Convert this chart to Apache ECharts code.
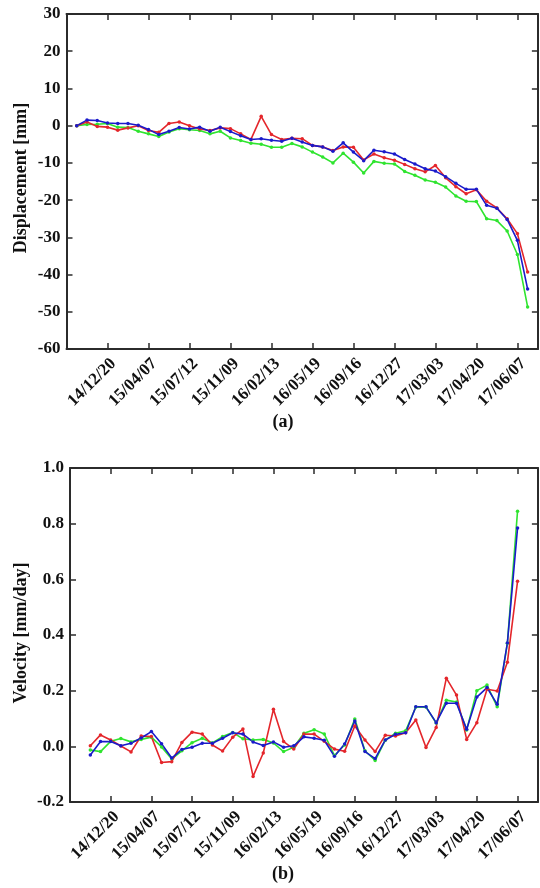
<!DOCTYPE html>
<html>
<head>
<meta charset="utf-8">
<script src="https://cdn.jsdelivr.net/npm/echarts@6/dist/echarts.min.js"></script>
<style>
html,body{margin:0;padding:0;background:#fff;}
#chart{width:540px;height:888px;}
</style>
</head>
<body>
<div id="chart"></div>
<script>
// Tick labels (every 4th acquisition, starting at acquisition index 3)
const tickLabels = ['14/12/20','15/04/07','15/07/12','15/11/09','16/02/13','16/05/19','16/09/16','16/12/27','17/03/03','17/04/20','17/06/07'];

// Displacement [mm], acquisitions 0..44
const dispRed = [0,1.0,-0.2,-0.4,-1.2,-0.6,0,-1.3,-1.8,0.6,1.0,0,-0.9,-1.3,-0.6,-0.8,-2.2,-3.7,2.5,-2.4,-3.7,-3.4,-3.5,-5.3,-5.7,-6.7,-5.7,-5.8,-9.2,-7.6,-8.6,-9.3,-10.4,-11.6,-12.4,-10.7,-14.0,-16.4,-18.3,-17.2,-20.3,-22.1,-25.0,-29.0,-39.3];
const dispGreen = [0,0.3,0.4,0.6,-0.4,-0.5,-1.5,-2.2,-2.9,-1.7,-0.8,-1.1,-1.3,-2.2,-1.5,-3.3,-4.0,-4.7,-5.0,-5.8,-5.8,-4.8,-5.7,-7.1,-8.4,-10.0,-7.4,-9.8,-12.7,-9.6,-10.1,-10.3,-12.3,-13.3,-14.6,-15.2,-16.5,-18.9,-20.3,-20.4,-25.0,-25.5,-28.3,-34.6,-48.7];
const dispBlue = [0,1.5,1.4,0.7,0.6,0.6,0.1,-1.0,-2.4,-1.5,-0.5,-0.9,-0.4,-1.5,-0.4,-1.6,-2.7,-3.7,-3.5,-3.9,-4.2,-3.4,-4.4,-5.3,-5.7,-6.9,-4.6,-7.1,-9.4,-6.6,-7.0,-7.6,-9.1,-10.3,-11.6,-12.2,-13.7,-15.5,-17.1,-17.1,-21.4,-22.2,-25.2,-30.8,-43.9];

// Velocity [mm/day], acquisitions 1..43
const velRed = [0.002,0.041,0.023,0.001,-0.02,0.037,0.035,-0.058,-0.055,0.014,0.051,0.044,0.005,-0.017,0.033,0.062,-0.108,-0.024,0.133,0.017,-0.01,0.044,0.044,0.018,-0.01,-0.018,0.073,0.023,-0.019,0.04,0.037,0.049,0.095,-0.004,0.068,0.245,0.184,0.025,0.085,0.205,0.199,0.302,0.593];
const velGreen = [-0.013,-0.019,0.018,0.028,0.016,0.025,0.033,-0.002,-0.045,-0.016,0.013,0.029,0.012,0.035,0.05,0.027,0.023,0.025,0.012,-0.019,-0.003,0.047,0.06,0.044,-0.033,0.005,0.098,-0.016,-0.051,0.022,0.047,0.056,0.141,0.141,0.084,0.166,0.159,0.059,0.2,0.22,0.142,0.37,0.845];
const velBlue = [-0.031,0.017,0.017,0.002,0.011,0.03,0.053,0.009,-0.042,-0.011,-0.003,0.011,0.011,0.029,0.049,0.044,0.016,0.003,0.016,-0.003,0.002,0.034,0.029,0.022,-0.036,0.008,0.091,-0.019,-0.044,0.023,0.043,0.049,0.142,0.142,0.085,0.155,0.155,0.061,0.177,0.211,0.151,0.371,0.784];

const RED = '#e4262b', GREEN = '#2fe42f', BLUE = '#1a1acb';
const AX = '#2b2b2b';
const FONT = 'Liberation Serif';

const chart = echarts.init(document.getElementById('chart'), null, {renderer: 'canvas'});

function xLabel(v) {
  const k = Math.round(v / 4) - 1;
  if (Math.abs(v - Math.round(v)) > 1e-6 || v % 4 !== 0) return '';
  return (k >= 0 && k < tickLabels.length) ? tickLabels[k] : '';
}

function xAxisBase(grid, pos, show) {
  return {
    type: 'value', gridIndex: grid, position: pos, min: 0, max: 46, interval: 4,
    axisLine: {show: true, onZero: false, lineStyle: {color: AX, width: 2}},
    axisTick: {show: true, inside: true, length: 6, lineStyle: {color: AX, width: 1.5}},
    axisLabel: show ? {show: true, rotate: 45, margin: 6, verticalAlign: 'top', color: '#111', fontFamily: FONT, fontWeight: 'bold', fontSize: 17, formatter: xLabel} : {show: false},
    splitLine: {show: false}
  };
}
function yAxisBase(grid, pos, show, min, max, interval, fmt) {
  return {
    type: 'value', gridIndex: grid, position: pos, min: min, max: max, interval: interval,
    axisLine: {show: true, onZero: false, lineStyle: {color: AX, width: 2}},
    axisTick: {show: true, inside: true, length: 6, lineStyle: {color: AX, width: 1.5}},
    axisLabel: show ? {show: true, margin: 6, color: '#111', fontFamily: FONT, fontWeight: 'bold', fontSize: 17, formatter: fmt} : {show: false},
    splitLine: {show: false}
  };
}

function series(name, data, color, xi, yi, offset) {
  return {
    name: name, type: 'line', xAxisIndex: xi, yAxisIndex: yi,
    data: data.map((v, i) => [i + offset, v]),
    symbol: 'circle', symbolSize: 3.5, showSymbol: true,
    lineStyle: {color: color, width: 1.6},
    itemStyle: {color: color},
    animation: false
  };
}

const option = {
  backgroundColor: '#fff',
  animation: false,
  grid: [
    {left: 66.5, top: 14, width: 473, height: 335},
    {left: 70, top: 468, width: 470, height: 334}
  ],
  xAxis: [
    xAxisBase(0, 'bottom', true),
    xAxisBase(0, 'top', false),
    xAxisBase(1, 'bottom', true),
    xAxisBase(1, 'top', false)
  ],
  yAxis: [
    yAxisBase(0, 'left', true, -60, 30, 10, v => String(v)),
    yAxisBase(0, 'right', false, -60, 30, 10),
    yAxisBase(1, 'left', true, -0.2, 1.0, 0.2, v => (Math.abs(v) < 1e-9 ? 0 : v).toFixed(1)),
    yAxisBase(1, 'right', false, -0.2, 1.0, 0.2)
  ],
  series: [
    series('green', dispGreen, GREEN, 0, 0, 1),
    series('red', dispRed, RED, 0, 0, 1),
    series('blue', dispBlue, BLUE, 0, 0, 1),
    series('green', velGreen, GREEN, 2, 2, 2),
    series('red', velRed, RED, 2, 2, 2),
    series('blue', velBlue, BLUE, 2, 2, 2)
  ],
  graphic: [
    {type: 'text', x: 21, y: 178, rotation: Math.PI / 2,
     style: {text: 'Displacement [mm]', fill: '#111', font: 'bold 18px "Liberation Serif"', textAlign: 'center', textVerticalAlign: 'middle'}},
    {type: 'text', x: 21, y: 633, rotation: Math.PI / 2,
     style: {text: 'Velocity [mm/day]', fill: '#111', font: 'bold 18px "Liberation Serif"', textAlign: 'center', textVerticalAlign: 'middle'}},
    {type: 'text', x: 283, y: 422,
     style: {text: '(a)', fill: '#111', font: 'bold 18px "Liberation Serif"', textAlign: 'center', textVerticalAlign: 'middle'}},
    {type: 'text', x: 283, y: 874,
     style: {text: '(b)', fill: '#111', font: 'bold 18px "Liberation Serif"', textAlign: 'center', textVerticalAlign: 'middle'}}
  ]
};
chart.setOption(option);
</script>
</body>
</html>
